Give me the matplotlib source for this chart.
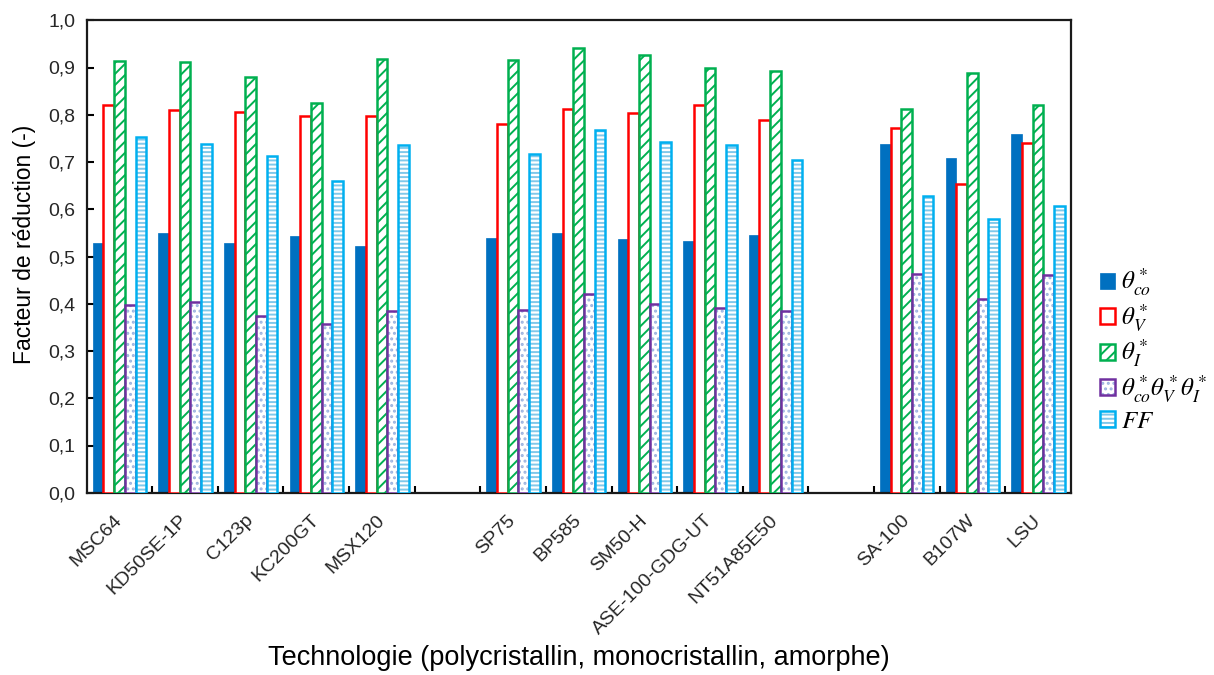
import matplotlib
matplotlib.use("Agg")
import matplotlib.pyplot as plt
from matplotlib.patches import Patch
from matplotlib.ticker import FixedLocator, FuncFormatter
from matplotlib.legend_handler import HandlerTuple
import numpy as np

# ---------------- data ----------------
modules = ["MSC64", "KD50SE-1P", "C123p", "KC200GT", "MSX120",
           "SP75", "BP585", "SM50-H", "ASE-100-GDG-UT", "NT51A85E50",
           "SA-100", "B107W", "LSU"]
group_sizes = [5, 5, 3]  # polycristallin, monocristallin, amorphe

theta_co = [0.529, 0.549, 0.529, 0.544, 0.522,
            0.539, 0.549, 0.537, 0.532, 0.546,
            0.738, 0.709, 0.759]
theta_v = [0.820, 0.809, 0.805, 0.798, 0.798,
           0.781, 0.813, 0.803, 0.820, 0.789,
           0.773, 0.653, 0.741]
theta_i = [0.913, 0.911, 0.880, 0.825, 0.918,
           0.915, 0.942, 0.926, 0.899, 0.892,
           0.813, 0.889, 0.820]
theta_prod = [0.397, 0.403, 0.375, 0.358, 0.384,
              0.387, 0.420, 0.399, 0.392, 0.384,
              0.463, 0.410, 0.461]
ff = [0.752, 0.739, 0.713, 0.660, 0.737,
      0.717, 0.768, 0.743, 0.736, 0.705,
      0.629, 0.579, 0.607]

series_labels = [r"$\theta^*_{co}$", r"$\theta^*_{V}$", r"$\theta^*_{I}$",
                 r"$\theta^*_{co}\theta^*_{V}\theta^*_{I}$", r"$FF$"]
yticks = [0.0, 0.1, 0.2, 0.3, 0.4, 0.5, 0.6, 0.7, 0.8, 0.9, 1.0]

# ---------------- style ----------------
plt.rcParams["font.family"] = ["Liberation Sans", "DejaVu Sans"]
plt.rcParams["mathtext.fontset"] = "stix"
plt.rcParams["hatch.linewidth"] = 1.4

# (face, hatch, hatch colour, edge colour)
styles = [
    ("#0070C0", None, None, "#0070C0"),
    ("white", None, None, "#FF0000"),
    ("white", "///", "#00B050", "#00B050"),
    ("white", "...", "#9DB4E0", "#7030A0"),
    ("white", "----", "#7FC8EA", "#00B0F0"),
]
all_series = [theta_co, theta_v, theta_i, theta_prod, ff]

# positions with one empty slot between groups
positions = []
start = 0
for g in group_sizes:
    positions.extend(range(start, start + g))
    start += g + 1
positions = np.array(positions, dtype=float)
nslots = int(positions[-1]) + 1  # number of category slots (15)

fig = plt.figure(figsize=(12.14, 6.75), dpi=100)
ax = fig.add_axes([0.0714, 0.270, 0.8106, 0.700])

w = 0.163
handles = []
for i, (vals, (fc, hatch, hc, ec)) in enumerate(zip(all_series, styles)):
    x = positions + (i - 2) * w
    if hatch is not None:
        ax.bar(x, vals, width=w, color="white", edgecolor=hc, hatch=hatch,
               linewidth=0, zorder=2 + i)
        ax.bar(x, vals, width=w, facecolor="none", edgecolor=ec,
               linewidth=1.8, zorder=2 + i)
        hp = Patch(facecolor="white", edgecolor=hc, hatch=hatch, linewidth=0)
        op = Patch(facecolor="none", edgecolor=ec, linewidth=1.8)
        handles.append((hp, op))
    else:
        if fc == "white":
            ax.bar(x, vals, width=w, facecolor="white", edgecolor=ec,
                   linewidth=1.8, zorder=2 + i)
            handles.append(Patch(facecolor="white", edgecolor=ec, linewidth=1.8))
        else:
            ax.bar(x, vals, width=w, facecolor=fc, edgecolor=ec,
                   linewidth=0.5, zorder=2 + i)
            handles.append(Patch(facecolor=fc, edgecolor=ec, linewidth=0.5))

ax.set_xlim(-0.5, nslots - 0.5)
ax.set_ylim(0, 1.0)

# y axis
ax.set_yticks(yticks)
ax.yaxis.set_major_formatter(FuncFormatter(lambda v, p: f"{v:.1f}".replace(".", ",")))
ax.tick_params(axis="y", direction="in", length=5, width=1.5, pad=8,
               labelsize=14, labelcolor="#262626")

# x axis: tick marks at slot boundaries, labels at category centres
ax.xaxis.set_major_locator(FixedLocator(np.arange(0.5, nslots - 1, 1.0)))
ax.xaxis.set_major_formatter(FuncFormatter(lambda v, p: ""))
ax.xaxis.set_minor_locator(FixedLocator(positions))
ax.set_xticklabels(modules, minor=True, rotation=45, ha="right", va="center",
                   rotation_mode="anchor", fontsize=14, color="#262626")
ax.tick_params(axis="x", which="major", direction="in", length=5, width=1.5)
ax.tick_params(axis="x", which="minor", length=0, pad=18)

for s in ax.spines.values():
    s.set_linewidth(1.6)
    s.set_color("#1a1a1a")

ax.set_ylabel("Facteur de réduction (-)", fontsize=16.5)
ax.yaxis.set_label_coords(-0.0520, 0.526)
fig.text(0.4767, 0.006, "Technologie (polycristallin, monocristallin, amorphe)",
         ha="center", va="bottom", fontsize=19.5)

fig.legend(handles, series_labels, loc="center left",
           bbox_to_anchor=(0.8958, 0.482), frameon=False, fontsize=18,
           handlelength=0.6, handleheight=0.6, handletextpad=0.25,
           labelspacing=0.16, borderpad=0,
           handler_map={tuple: HandlerTuple(ndivide=1, pad=0)})
fig.savefig("out.png", dpi=100)
